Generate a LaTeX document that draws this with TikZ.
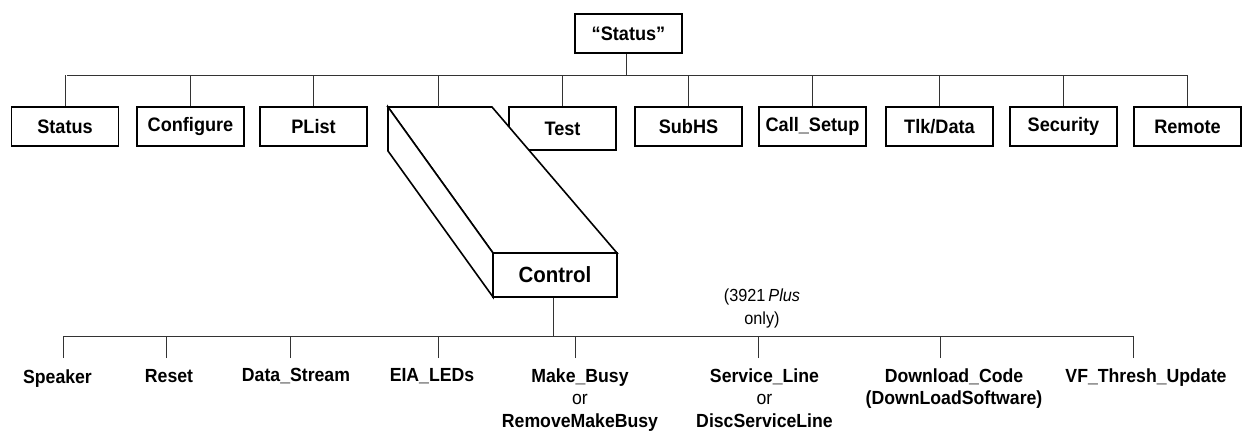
\documentclass[tikz,border=0pt]{standalone}
\usepackage{fontspec}
\setmainfont{Liberation Sans}
\newfontfamily\condfont[FakeStretch=0.93,Ligatures=TeX]{Liberation Sans}
\begin{document}
\begin{tikzpicture}[x=1pt,y=-1pt,
  conn/.style={draw=black!80,line width=0.9pt},
  boxnode/.style={draw,line width=1.6pt,fill=white,minimum width=107pt,minimum height=39pt,inner sep=0pt,font=\condfont\fontsize{19.5}{22}\selectfont\bfseries},
  leaf/.style={inner sep=0pt,anchor=north,align=center,font=\condfont\fontsize{19}{22.5}\selectfont\bfseries},
  prism/.style={draw,line width=1.6pt,fill=white,line join=miter}]
\useasboundingbox (0,0) rectangle (1243,433);
% top
\node[boxnode] (top) at (628.5,33.5) {“Status”};
\coordinate (busL) at (67,75);
\coordinate (busR) at (1188,75);
\draw[conn] (busL) -- (busR);
\draw[conn] ([xshift=-2.5pt]top.south) -- ([xshift=-2.5pt]top.south |- busL);
% second row
\node[boxnode] (status) at (65,126.5) {Status};
\node[boxnode] (configure) at (190.5,126.5) {Configure};
\node[boxnode] (plist) at (313.5,126.5) {PList};
\node[boxnode,minimum height=43pt] (test) at (562.5,128.5) {Test};
\node[boxnode] (subhs) at (688.5,126.5) {SubHS};
\node[boxnode] (callsetup) at (812.5,126.5) {Call\_Setup};
\node[boxnode] (tlkdata) at (939.5,126.5) {Tlk/Data};
\node[boxnode] (security) at (1063.5,126.5) {Security};
\node[boxnode] (remote) at (1187.5,126.5) {Remote};
\foreach \n in {status,configure,plist,test,subhs,callsetup,tlkdata,security,remote}
  \draw[conn] (\n.north) -- (\n.north |- busL);
% prism (Control)
\coordinate (pA) at (388,107);
\coordinate (pB) at (492,107);
\coordinate (pC) at (617,253);
\coordinate (pD) at (493,253);
\coordinate (pE) at (493,297);
\coordinate (pF) at (388,151);
\coordinate (ptop) at (438,107);
\draw[prism] (pA) -- (pB) -- (pC) -- (pD) -- cycle;
\draw[prism] (pA) -- (pD) -- (pE) -- (pF) -- cycle;
\node[boxnode,minimum width=124pt,minimum height=44pt,font=\condfont\fontsize{22}{24}\selectfont\bfseries] (control) at (555,275) {Control};
\draw[conn] (ptop) -- (ptop |- busL);
% lower bus
\coordinate (bus2L) at (63,336);
\coordinate (bus2R) at (1133,336);
\draw[conn] (bus2L) -- (bus2R);
\draw[conn] ([xshift=-2pt]control.south) -- ([xshift=-2pt]control.south |- bus2L);
\foreach \i/\x in {1/63,2/166,3/290,4/438,5/575,6/758,7/940,8/1133} {
  \coordinate (s\i) at (\x,358);
  \draw[conn] (s\i) -- (s\i |- bus2L);
}
\node[leaf] (speaker) at (57.5,369.5) {Speaker};
\node[leaf] (reset) at (169,369.5) {Reset};
\node[leaf] (datastream) at (296,368.5) {Data\_Stream};
\node[leaf] (eialeds) at (432,368.5) {EIA\_LEDs};
\node[leaf] (makebusy) at (580,368.5) {Make\_Busy\\{\mdseries or}\\RemoveMakeBusy};
\node[leaf] (serviceline) at (764.5,368.5) {Service\_Line\\{\mdseries or}\\DiscServiceLine};
\node[leaf] (download) at (954,368.5) {Download\_Code\\(DownLoadSoftware)};
\node[leaf] (vfthresh) at (1146,368.5) {VF\_Thresh\_Update};
\node[inner sep=0pt,align=center,font=\condfont\fontsize{17.5}{23}\selectfont] (plusnote) at (762,308) {(3921\,\textit{Plus}\\only)};
\end{tikzpicture}
\end{document}
